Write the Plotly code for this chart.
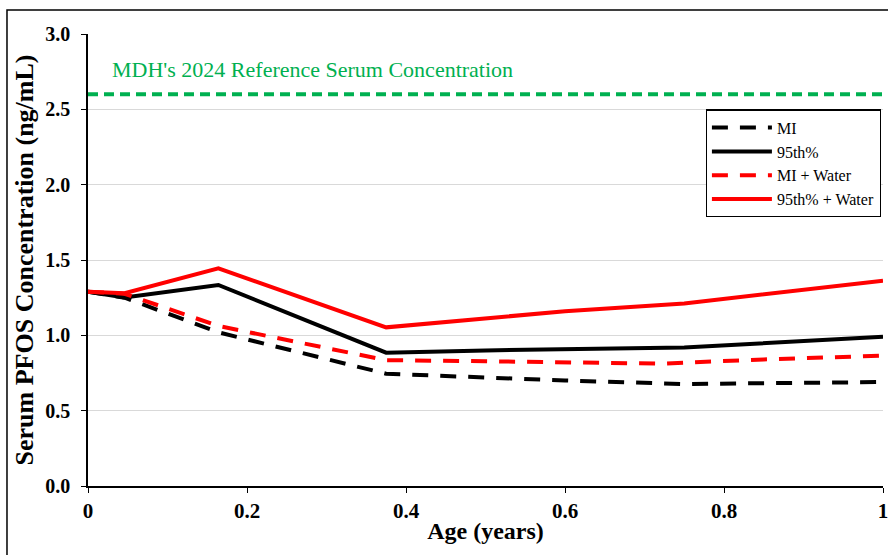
import plotly.graph_objects as go

# Data
mi_x = [0, 0.046, 0.164, 0.375, 0.5, 0.6, 0.75, 0.85, 1.0]
mi_y = [1.29, 1.25, 1.02, 0.745, 0.72, 0.70, 0.677, 0.682, 0.69]

p95_x = [0, 0.046, 0.164, 0.375, 0.5, 0.75, 1.0]
p95_y = [1.29, 1.252, 1.334, 0.885, 0.90, 0.92, 0.99]

miw_x = [0, 0.046, 0.164, 0.375, 0.5, 0.6, 0.72, 0.85, 1.0]
miw_y = [1.29, 1.276, 1.062, 0.835, 0.828, 0.822, 0.812, 0.84, 0.865]

p95w_x = [0, 0.046, 0.164, 0.375, 0.6, 0.75, 1.0]
p95w_y = [1.29, 1.279, 1.445, 1.053, 1.16, 1.212, 1.362]

ref_x = [0, 1]
ref_y = [2.6, 2.6]
ref_label = "MDH's 2024 Reference Serum Concentration"

y_ticks = [0, 0.5, 1.0, 1.5, 2.0, 2.5, 3.0]
y_tick_text = ["0.0", "0.5", "1.0", "1.5", "2.0", "2.5", "3.0"]
x_ticks = [0, 0.2, 0.4, 0.6, 0.8, 1]
x_tick_text = ["0", "0.2", "0.4", "0.6", "0.8", "1"]

SERIF = "Liberation Serif, Times New Roman, serif"
GREEN = "#00B050"
RED = "#FF0000"

fig = go.Figure()
fig.add_trace(go.Scatter(x=ref_x, y=ref_y, mode="lines", showlegend=False,
                         line=dict(color=GREEN, width=4, dash="10px,6px")))
fig.add_trace(go.Scatter(x=mi_x, y=mi_y, mode="lines", name="MI",
                         line=dict(color="black", width=4, dash="16px,12px")))
fig.add_trace(go.Scatter(x=p95_x, y=p95_y, mode="lines", name="95th%",
                         line=dict(color="black", width=4)))
fig.add_trace(go.Scatter(x=miw_x, y=miw_y, mode="lines", name="MI + Water",
                         line=dict(color=RED, width=4, dash="16px,12px")))
fig.add_trace(go.Scatter(x=p95w_x, y=p95w_y, mode="lines", name="95th% + Water",
                         line=dict(color=RED, width=4)))

fig.add_annotation(x=0.0275, y=2.767, xref="x", yref="y", text=ref_label,
                   showarrow=False, xanchor="left", yanchor="middle",
                   font=dict(family=SERIF, size=22, color=GREEN))

# outer chart border
fig.add_shape(type="rect", xref="paper", yref="paper",
              x0=-0.1019, x1=1.02, y0=-0.2, y1=1.053,
              line=dict(color="black", width=1.5), layer="below")

fig.update_layout(
    width=888, height=555,
    margin=dict(l=88, r=5, t=34, b=69),
    paper_bgcolor="white", plot_bgcolor="white",
    font=dict(family=SERIF, color="black"),
    legend=dict(x=0.777, y=0.833, xanchor="left", yanchor="top",
                bordercolor="black", borderwidth=1.2, bgcolor="white",
                font=dict(family=SERIF, size=16, color="black"),
                tracegroupgap=0, itemwidth=60),
    xaxis=dict(range=[0, 1], tickvals=x_ticks, ticktext=x_tick_text,
               automargin=False,
               showgrid=False, zeroline=False, showline=True,
               linecolor="black", linewidth=1.5, ticks="outside", ticklen=5,
               tickcolor="black", ticklabeloverflow="allow",
               tickfont=dict(family=SERIF, size=21, color="black", weight="bold"),
               title=dict(text="<b>Age (years)</b>", standoff=0,
                          font=dict(family=SERIF, size=24, color="black"))),
    yaxis=dict(range=[0, 3.0], tickvals=y_ticks, ticktext=y_tick_text,
               automargin=False,
               showgrid=True, gridcolor="#D9D9D9", gridwidth=1,
               zeroline=False, showline=True,
               linecolor="black", linewidth=1.5, ticks="outside", ticklen=5,
               tickcolor="black", ticklabelstandoff=7,
               tickfont=dict(family=SERIF, size=20, color="black", weight="bold"),
               title=dict(text="<b>Serum PFOS Concentration (ng/mL)</b>", standoff=4,
                          font=dict(family=SERIF, size=26, color="black"))),
)

fig.write_html("out.html")
